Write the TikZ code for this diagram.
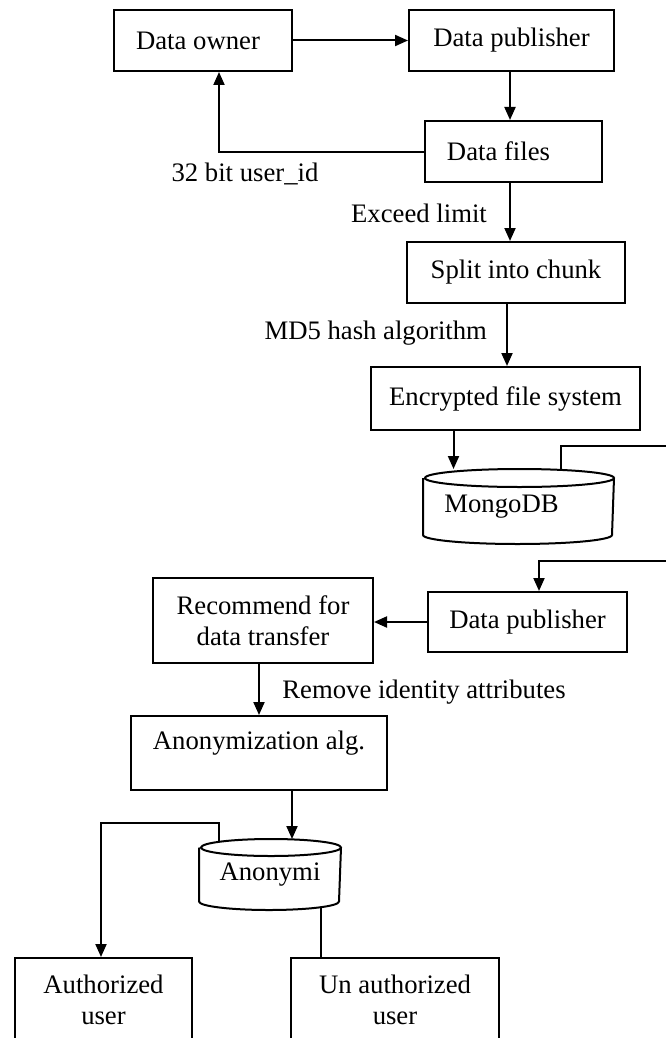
\documentclass[tikz,border=0pt]{standalone}
\usepackage{fontspec}
\setmainfont{Liberation Serif}
\usetikzlibrary{arrows.meta}

\begin{document}
\begin{tikzpicture}[x=1pt, y=-1pt, line width=2pt,
  font=\fontsize{26.7pt}{31pt}\selectfont,
  blk/.style={draw, inner sep=0pt, align=center},
  drum/.style={inner sep=0pt},
  lbl/.style={inner sep=0pt},
  >={Triangle[length=13pt,width=11pt]}]

\useasboundingbox (0,0) rectangle (666,1038);
\clip (0,0) rectangle (666,1038);

\node[blk, minimum width=178pt, minimum height=61pt] (owner) at (203,40.5) {Data owner\hspace*{10pt}};
\node[blk, minimum width=205pt, minimum height=61pt] (pub1) at (511.5,40.5) {Data publisher};
\node[blk, minimum width=177pt, minimum height=61pt] (files) at (513.5,151.5) {Data files\hspace*{30pt}};
\node[blk, minimum width=218pt, minimum height=61pt] (split) at (516,272.5) {Split into chunk};
\node[blk, minimum width=269pt, minimum height=63pt] (enc) at (505.5,398.5) {Encrypted file system};
\node[drum, minimum width=189pt, minimum height=73pt] (mongo) at (518.5,506.5) {MongoDB\hspace*{34pt}};
\node[blk, minimum width=199pt, minimum height=60pt] (pub2) at (527.5,622) {Data publisher};
\node[blk, minimum width=220pt, minimum height=85pt] (rec) at (263,620.5) {Recommend for\\data transfer};
\node[blk, minimum width=256pt, minimum height=74pt, text height=18pt, text depth=26pt] (anon) at (259,753) {Anonymization alg.};
\node[drum, minimum width=140pt, minimum height=69pt] (store) at (270,874.5) {Anonymi};
\node[blk, minimum width=177pt, minimum height=84pt] (auth) at (103.5,1000) {Authorized\\user};
\node[blk, minimum width=208pt, minimum height=84pt] (unauth) at (395,1000) {Un authorized\\user};

\foreach \db/\rx/\ry in {mongo/94.5/9, store/70/8.5}
  {\draw ([yshift=-\ry pt]\db.north west) -- ([yshift=\ry pt]\db.south west)
     arc[start angle=180, end angle=360, x radius=\rx pt, y radius=\ry pt]
     -- ([yshift=-\ry pt]\db.north east)
     arc[start angle=0, end angle=360, x radius=\rx pt, y radius=\ry pt];}

\node[lbl] (uid) at (245,174) {32 bit user\_id};
\node[lbl] (limit) at (419,213) {Exceed limit};
\node[lbl, anchor=east] (md5) at (488,333) {MD5 hash algorithm};
\node[lbl] (strip) at (424,692) {Remove identity attributes};

\coordinate (outA) at (700,446);
\coordinate (outB) at (700,561);
\coordinate (bend) at (101,823);

\draw[->] (owner.east) -- (pub1.west);
\draw[->] ([xshift=-1.5pt]pub1.south) -- ([xshift=-1.5pt]pub1.south |- files.north);
\draw[->] (files.west) -| ([xshift=16pt]owner.south);
\draw[->] ([xshift=-3.5pt]files.south) -- ([xshift=-3.5pt]files.south |- split.north);
\draw[->] ([xshift=1.5pt]enc.north |- split.south) -- ([xshift=1.5pt]enc.north);
\draw[->] ([xshift=-52pt]enc.south) -- ([xshift=-52pt]enc.south |- mongo.north);
\draw[->] ([xshift=42.5pt]mongo.north) |- (outA) -- (outB) -| ([xshift=11.5pt]pub2.north);
\draw[->] (pub2.west) -- (pub2.west -| rec.east);
\draw[->] (anon.north |- rec.south) -- (anon.north);
\draw[->] ([xshift=33pt]anon.south) -- ([xshift=33pt]anon.south |- store.north);
\draw[->] ([xshift=-51pt, yshift=-3pt]store.north) |- (bend) -- (bend |- auth.north);
\draw ([xshift=51pt, yshift=3pt]store.south) -- ([xshift=51pt]store.south |- unauth.north);

\end{tikzpicture}
\end{document}
